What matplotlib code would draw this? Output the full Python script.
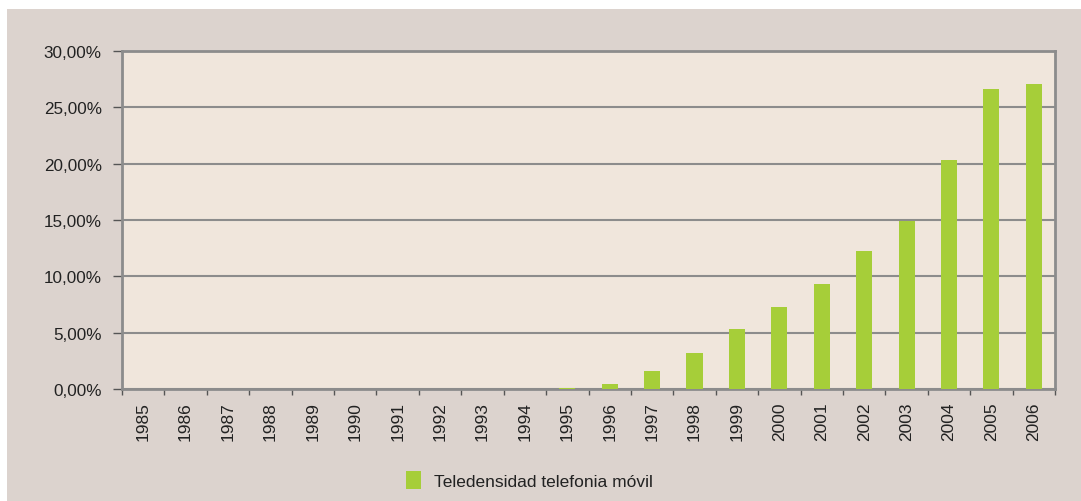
import numpy as np
import matplotlib.pyplot as plt
from matplotlib.patches import Rectangle, Patch
from matplotlib.ticker import FuncFormatter

plt.rcParams['font.family'] = ['Liberation Sans', 'DejaVu Sans']

years = [str(y) for y in range(1985, 2007)]
teledensidad = [0, 0, 0, 0, 0, 0, 0, 0, 0, 0.01, 0.1, 0.45, 1.6, 3.2,
                5.3, 7.3, 9.3, 12.25, 14.9, 20.3, 26.6, 27.1]

bar_color = '#a6ce39'
grid_color = '#8c8c8c'

fig = plt.figure(figsize=(10.81, 5.02), dpi=100, facecolor='white')
fig.patches.append(Rectangle((7 / 1081, 0), 1 - 7 / 1081, (502 - 10) / 502,
                             transform=fig.transFigure, facecolor='#dcd3ce',
                             edgecolor='none', zorder=-5))

ax = fig.add_axes([122 / 1081, 112 / 502, 933 / 1081, 338 / 502])
ax.set_facecolor('#f0e6dc')

x = np.arange(len(years))
ax.bar(x, teledensidad, width=0.38, color=bar_color, zorder=3)

ax.set_xlim(-0.5, len(years) - 0.5)
ax.set_ylim(0, 30)
ax.set_yticks(np.arange(0, 31, 5))
ax.yaxis.set_major_formatter(FuncFormatter(lambda v, p: f'{v:.2f}%'.replace('.', ',')))
ax.yaxis.grid(True, color=grid_color, linewidth=1.5, zorder=1)

ax.set_xticks(x)
ax.set_xticklabels(years, rotation=90)
ax.set_xticks(np.arange(-0.5, len(years), 1), minor=True)
ax.tick_params(axis='x', which='major', length=0, pad=9, labelsize=12.5, labelcolor='#222222')
ax.tick_params(axis='x', which='minor', length=4, width=1, color='#555555')
ax.tick_params(axis='y', length=6.5, width=1, color='#555555', labelsize=12.3,
               labelcolor='#222222', pad=8)

for s in ax.spines.values():
    s.set_color(grid_color)
    s.set_linewidth(2)

handles = [Patch(facecolor=bar_color, label='Teledensidad telefonia móvil')]
fig.legend(handles=handles, loc='center left', bbox_to_anchor=(406 / 1081, 1 - 481 / 502),
           frameon=False, fontsize=12.5, handlelength=0.85, handleheight=1.2,
           handletextpad=0.75, borderpad=0, borderaxespad=0, labelcolor='#222222')

fig.savefig('out.png', dpi=100, facecolor='white')
